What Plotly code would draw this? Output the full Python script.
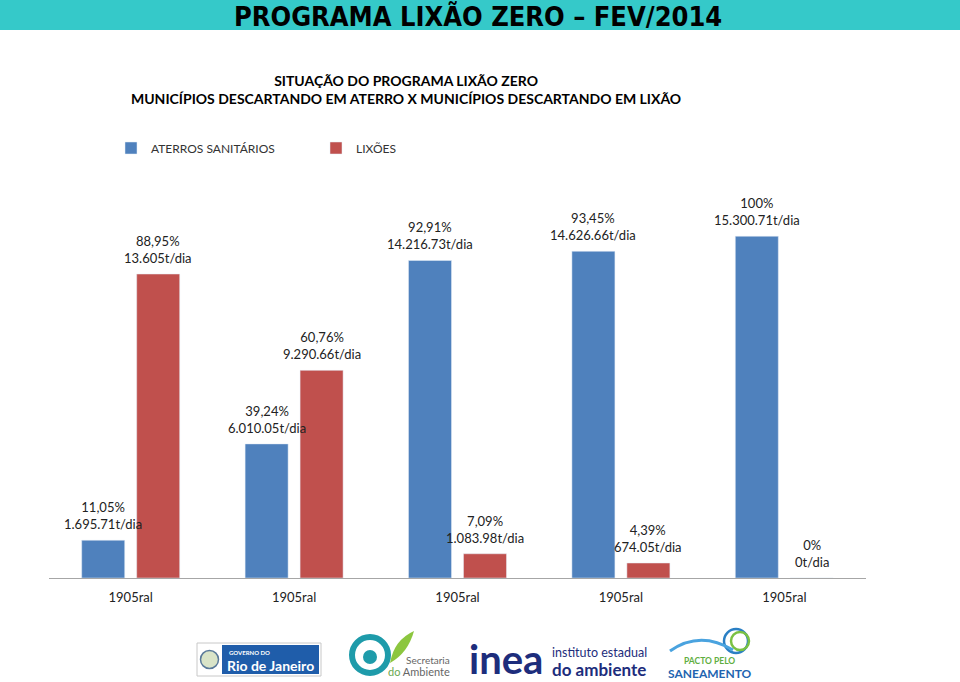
import plotly.graph_objects as go

# ---------------- data ----------------
categories = ["1905ral", "1905ral", "1905ral", "1905ral", "1905ral"]
aterros_values = [11.05, 39.24, 92.91, 95.6, 100]
aterros_labels = ["11,05%<br>1.695.71t/dia", "39,24%<br>6.010.05t/dia",
                  "92,91%<br>14.216.73t/dia", "93,45%<br>14.626.66t/dia",
                  "100%<br>15.300.71t/dia"]
lixoes_values = [88.95, 60.76, 7.09, 4.39, 0]
lixoes_labels = ["88,95%<br>13.605t/dia", "60,76%<br>9.290.66t/dia",
                 "7,09%<br>1.083.98t/dia", "4,39%<br>674.05t/dia", "0%<br>0t/dia"]
series_names = ["ATERROS SANITÁRIOS", "LIXÕES"]

title_text = "PROGRAMA LIXÃO ZERO – FEV/2014"
subtitle_text = "SITUAÇÃO DO PROGRAMA LIXÃO ZERO<br>MUNICÍPIOS DESCARTANDO EM ATERRO X MUNICÍPIOS DESCARTANDO EM LIXÃO"

# ---------------- layout helpers ----------------
W, H = 960, 682
L, R, T, B = 49, 94, 185, 104
PW, PH = W - L - R, H - T - B
BARGAP, BARGROUPGAP = 0.327, 0.218


def px(x, y):
    """pixel position -> paper coordinates"""
    return (x - L) / PW, (H - B - y) / PH


FONT = "Lato, 'Open Sans', sans-serif"
BLUE = "#4F81BD"
RED = "#C0504D"

xpos = list(range(len(categories)))

fig = go.Figure()
fig.add_trace(go.Bar(x=xpos, y=aterros_values, name=series_names[0], marker_color=BLUE,
                     hovertext=aterros_labels, hoverinfo="text"))
fig.add_trace(go.Bar(x=xpos, y=lixoes_values, name=series_names[1], marker_color=RED,
                     hovertext=lixoes_labels, hoverinfo="text"))

shapes = []
annotations = []

# value labels above the bars (annotations so they stay above neighbouring bars)
slot = (1 - BARGAP) / 4  # offset of each bar's centre from the category centre
for sign, vals, labs in ((-1, aterros_values, aterros_labels), (1, lixoes_values, lixoes_labels)):
    for xi, v, lab in zip(xpos, vals, labs):
        annotations.append(dict(x=xi + sign * slot, y=v, xref="x", yref="y", text=lab,
                                showarrow=False, xanchor="center", yanchor="bottom", yshift=6,
                                font=dict(family=FONT, size=13, color="#222")))

# title bar
x0, y1 = px(0, 0)
x1, y0 = px(W, 30)
shapes.append(dict(type="rect", xref="paper", yref="paper", x0=x0, x1=x1, y0=y0, y1=y1,
                   fillcolor="#35C9C9", line=dict(width=0), layer="below"))
tx, ty = px(478, 16)
annotations.append(dict(xref="paper", yref="paper", x=tx, y=ty, text="<b>%s</b>" % title_text,
                        showarrow=False, xanchor="center", yanchor="middle",
                        font=dict(family="'Liberation Sans Narrow', 'DejaVu Sans Condensed', 'DejaVu Sans', sans-serif",
                                  size=27, color="#000")))
sx, sy = px(406, 89)
annotations.append(dict(xref="paper", yref="paper", x=sx, y=sy, text="<b>%s</b>" % subtitle_text,
                        showarrow=False, xanchor="center", yanchor="middle",
                        font=dict(family=FONT, size=14, color="#000")))


def rect(xa, ya, xb, yb, fill, line=None, lw=0):
    a = px(xa, yb)
    b = px(xb, ya)
    shapes.append(dict(type="rect", xref="paper", yref="paper", x0=a[0], y0=a[1], x1=b[0], y1=b[1],
                       fillcolor=fill, line=dict(width=lw, color=line or fill)))


def circle(cx, cy, r, fill, line=None, lw=0):
    a = px(cx - r, cy + r)
    b = px(cx + r, cy - r)
    shapes.append(dict(type="circle", xref="paper", yref="paper", x0=a[0], y0=a[1], x1=b[0], y1=b[1],
                       fillcolor=fill, line=dict(width=lw, color=line or "rgba(0,0,0,0)")))


def text(x, y, s, size, color, anchor="center", weight="normal", family=FONT):
    p = px(x, y)
    annotations.append(dict(xref="paper", yref="paper", x=p[0], y=p[1], text=s, showarrow=False,
                            xanchor=anchor, yanchor="middle", borderpad=0,
                            font=dict(family=family, size=size, color=color, weight=weight)))


# logo 1: Governo do Rio de Janeiro
rect(197, 643, 321, 676, "white", "#c8c8c8", 1)
rect(222, 645, 319, 674, "#1F5DAA")
circle(209.5, 659.5, 9, "#d9e4c8", "#5a7a9a", 1.5)
text(228, 652, "<b>GOVERNO DO</b>", 6, "white", "left")
text(226, 665, "<b>Rio de Janeiro</b>", 14, "white", "left")

# logo 2: Secretaria do Ambiente
circle(370, 655, 18, "rgba(0,0,0,0)", "#1E9BAA", 6)
circle(370, 657, 7, "#1E9BAA")
a, b, c, d = px(390, 663), px(394, 640), px(414, 631), px(408, 653)
shapes.append(dict(type="path", xref="paper", yref="paper",
                   path="M %f %f Q %f %f %f %f Q %f %f %f %f Z" % (a[0], a[1], b[0], b[1], c[0], c[1],
                                                                    d[0], d[1], a[0], a[1]),
                   fillcolor="#8CC63F", line=dict(width=0)))
text(451, 660, "Secretaria", 10, "#666", "right")
text(451, 671, "<span style='color:#6aa84f'>do</span> Ambiente", 11, "#666", "right")

# logo 3: inea
text(506, 659, "<b>inea</b>", 40, "#1D2D7C", "center", 900)
text(551, 652, "instituto estadual", 12.5, "#1D2D7C", "left")
text(551, 669, "<b>do ambiente</b>", 17, "#1D2D7C", "left")

# logo 4: Pacto pelo Saneamento
circle(736, 641, 12, "rgba(0,0,0,0)", "#2a7fc4", 2.5)
circle(740, 641, 9, "rgba(0,0,0,0)", "#7ac143", 2.5)
wp = [px(670, 651), px(700, 630), px(733, 650)]
shapes.append(dict(type="path", xref="paper", yref="paper",
                   path="M %f %f Q %f %f %f %f" % (wp[0][0], wp[0][1], wp[1][0], wp[1][1], wp[2][0], wp[2][1]),
                   line=dict(width=3, color="#4aa3df")))
text(709, 661, "<b>PACTO PELO</b>", 8.5, "#5fae3f")
text(710, 673, "<b>SANEAMENTO</b>", 12, "#2264b0")

lx, ly = px(111, 148)
fig.update_layout(
    width=W, height=H,
    margin=dict(l=L, r=R, t=T, b=B, pad=0),
    paper_bgcolor="white", plot_bgcolor="white",
    barmode="group", bargap=BARGAP, bargroupgap=BARGROUPGAP,
    font=dict(family=FONT, size=12, color="#222"),
    showlegend=True,
    legend=dict(orientation="h", x=lx, y=ly, xanchor="left", yanchor="middle",
                font=dict(family=FONT, size=12, color="#333"),
                entrywidth=160, entrywidthmode="pixels", itemwidth=30,
                bgcolor="rgba(0,0,0,0)"),
    xaxis=dict(tickmode="array", tickvals=xpos, ticktext=categories,
               range=[-0.5, len(categories) - 0.5],
               showline=True, linecolor="#a6a6a6", linewidth=1,
               ticks="", showgrid=False, zeroline=False, ticklabelstandoff=7,
               tickfont=dict(family=FONT, size=13, color="#222")),
    yaxis=dict(range=[0, 115], visible=False, showgrid=False, zeroline=False),
    shapes=shapes, annotations=annotations,
)

fig.write_html("out.html", config={"displayModeBar": False},
               post_script="document.body.style.margin='0';")
